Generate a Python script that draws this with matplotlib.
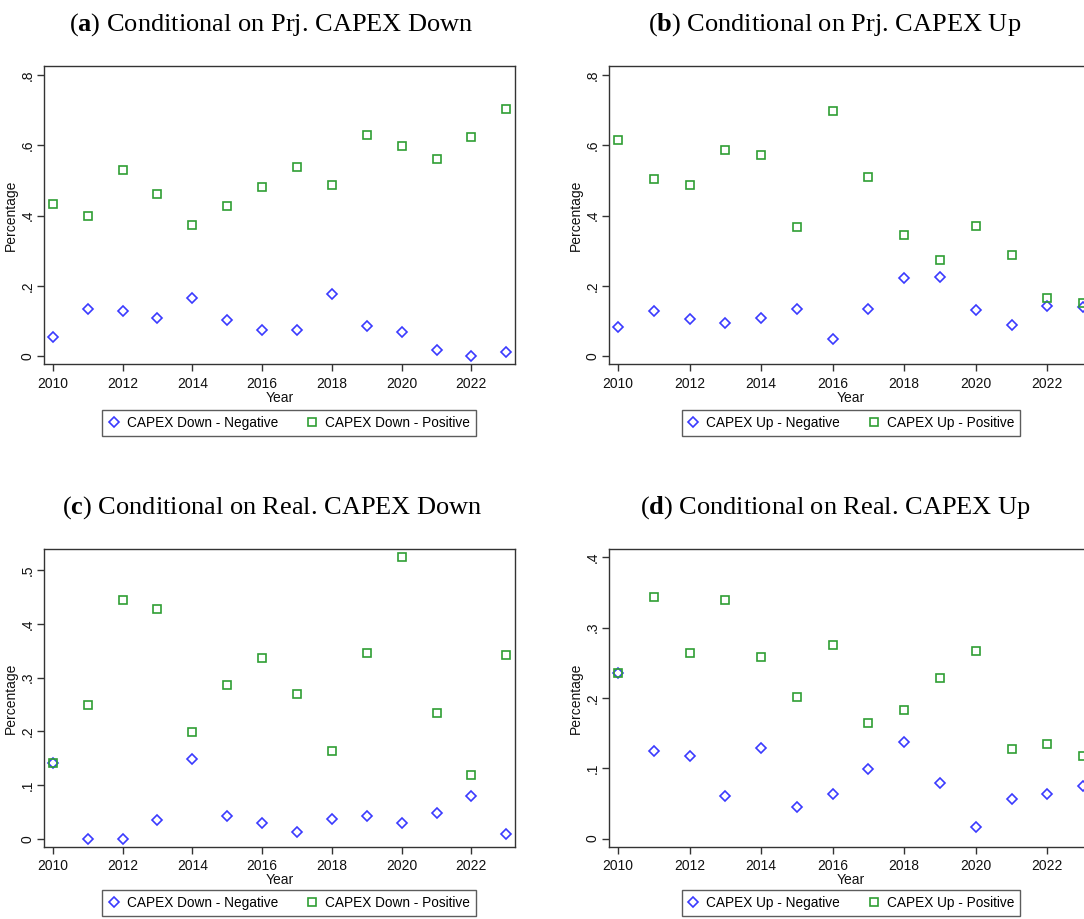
import numpy as np
import matplotlib.pyplot as plt

plt.rcParams['font.family'] = 'Liberation Sans'
plt.rcParams['mathtext.fontset'] = 'custom'
plt.rcParams['mathtext.rm'] = 'Liberation Serif'
plt.rcParams['mathtext.bf'] = 'Liberation Serif:bold'

years = list(range(2010, 2024))

# share of negative / positive outcomes per year
prj_down_neg = [0.054, 0.133, 0.129, 0.107, 0.164, 0.102, 0.073, 0.075, 0.176, 0.086, 0.068, 0.017, 0.000, 0.010]
prj_down_pos = [0.432, 0.400, 0.529, 0.460, 0.374, 0.428, 0.480, 0.538, 0.486, 0.629, 0.599, 0.560, 0.625, 0.704]

prj_up_neg = [0.082, 0.127, 0.105, 0.093, 0.109, 0.133, 0.048, 0.133, 0.221, 0.226, 0.132, 0.089, 0.143, 0.139]
prj_up_pos = [0.615, 0.503, 0.487, 0.586, 0.572, 0.368, 0.698, 0.509, 0.345, 0.274, 0.369, 0.287, 0.164, 0.150]

real_down_neg = [0.142, 0.000, 0.000, 0.035, 0.149, 0.043, 0.029, 0.013, 0.036, 0.042, 0.029, 0.048, 0.079, 0.009]
real_down_pos = [0.142, 0.250, 0.444, 0.428, 0.199, 0.286, 0.336, 0.270, 0.163, 0.347, 0.525, 0.235, 0.119, 0.343]

real_up_neg = [0.235, 0.125, 0.118, 0.060, 0.129, 0.045, 0.063, 0.099, 0.138, 0.079, 0.017, 0.057, 0.064, 0.075]
real_up_pos = [0.235, 0.344, 0.264, 0.340, 0.259, 0.202, 0.275, 0.165, 0.183, 0.228, 0.267, 0.128, 0.135, 0.117]

ticks_08 = [0, 0.2, 0.4, 0.6, 0.8]
labels_08 = ['0', '.2', '.4', '.6', '.8']
ticks_05 = [0, 0.1, 0.2, 0.3, 0.4, 0.5]
labels_05 = ['0', '.1', '.2', '.3', '.4', '.5']
ticks_04 = [0, 0.1, 0.2, 0.3, 0.4]
labels_04 = ['0', '.1', '.2', '.3', '.4']

BLUE = '#3a3aff'
GREEN = '#2f9e34'
FRAME = '#333333'

W, H = 1084, 919
fig = plt.figure(figsize=(W / 100, H / 100), dpi=100)


def px_axes(l, t, r, b):
    return fig.add_axes([l / W, 1 - b / H, (r - l) / W, (b - t) / H])


panels = [
    ('a', 'Conditional on Prj. CAPEX Down', (44, 66, 515, 364), prj_down_neg, prj_down_pos,
     'CAPEX Down', ticks_08, labels_08, (-0.023, 0.826), (289, 423)),
    ('b', 'Conditional on Prj. CAPEX Up', (609, 66, 1092, 364), prj_up_neg, prj_up_pos,
     'CAPEX Up', ticks_08, labels_08, (-0.023, 0.826), (851, 423)),
    ('c', 'Conditional on Real. CAPEX Down', (44, 549, 515, 847), real_down_neg, real_down_pos,
     'CAPEX Down', ticks_05, labels_05, (-0.0155, 0.540), (289, 903)),
    ('d', 'Conditional on Real. CAPEX Up', (609, 549, 1092, 847), real_up_neg, real_up_pos,
     'CAPEX Up', ticks_04, labels_04, (-0.012, 0.412), (851, 903)),
]

title_x = {'a': 271, 'b': 835, 'c': 272, 'd': 835}

for letter, title, rect, neg, pos, name, yt, yl, ylim, leg_c in panels:
    ax = px_axes(*rect)
    h1, = ax.plot(years, neg, linestyle='none', marker='D', ms=5.4, mfc='none',
                  mec=BLUE, mew=1.2, label=name + ' - Negative')
    h2, = ax.plot(years, pos, linestyle='none', marker='s', ms=6.0, mfc='none',
                  mec=GREEN, mew=1.2, label=name + ' - Positive')

    ax.set_xlim(2009.75, 2023.25)
    ax.set_ylim(*ylim)
    ax.set_xticks(range(2010, 2024, 2))
    ax.set_yticks(yt)
    ax.set_yticklabels(yl, rotation=90, va='center')
    ax.tick_params(axis='both', direction='out', length=5, width=1.0, color=FRAME,
                   labelsize=10, labelcolor='#111111')
    ax.tick_params(axis='x', pad=4)
    ax.tick_params(axis='y', pad=2)
    for s in ax.spines.values():
        s.set_color(FRAME)
        s.set_linewidth(1.0)
    ax.set_xlabel('Year', fontsize=10, labelpad=0, color='#111111')
    ax.set_ylabel('Percentage', fontsize=10, labelpad=2, color='#111111')

    fig.legend(handles=[h1, h2], loc='center',
               bbox_to_anchor=(leg_c[0] / W, 1 - leg_c[1] / H), ncol=2,
               fontsize=9.8, frameon=True, fancybox=False, edgecolor=FRAME,
               borderpad=0.45, handlelength=0.8, handletextpad=0.55,
               columnspacing=2.1, borderaxespad=0)

    base_y = rect[1] - 35
    fig.text(title_x[letter] / W, 1 - base_y / H,
             r'($\mathbf{' + letter + r'}$) ' + title,
             family='Liberation Serif', fontsize=19, ha='center', va='baseline')

fig.savefig('out.png', dpi=100)
